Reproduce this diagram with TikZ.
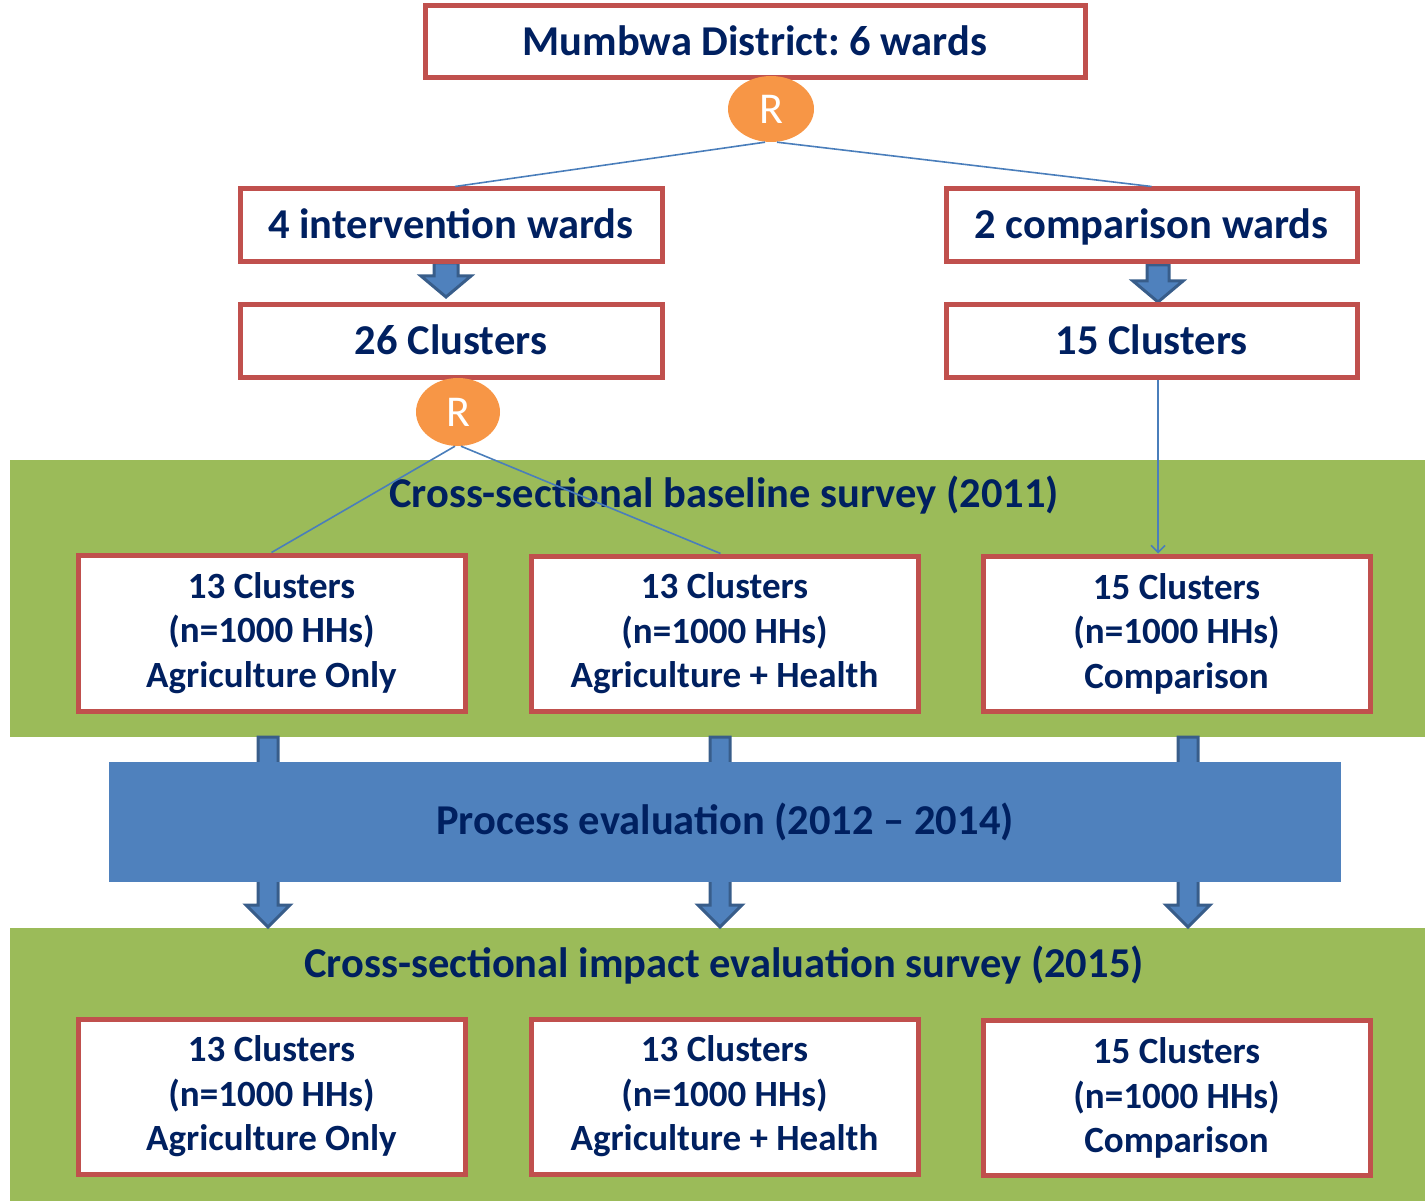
\documentclass[tikz,border=0pt]{standalone}
\usepackage{fontspec}
\setmainfont{Carlito}
\usetikzlibrary{arrows.meta,shapes.geometric,calc}
\frenchspacing

\definecolor{boxred}{HTML}{C0504D}
\definecolor{bandgreen}{HTML}{9BBB59}
\definecolor{procblue}{HTML}{4F81BD}
\definecolor{arrowedge}{HTML}{385D8A}
\definecolor{randorange}{HTML}{F79646}
\definecolor{navy}{HTML}{002060}
\definecolor{linkblue}{HTML}{4A7EBB}

% down-pointing block arrow: centre x, top y, head start y, tip y, half shaft, half head
\newcommand\blockdown[6]{%
  \fill[procblue, draw=arrowedge, line width=3, line join=miter]
    ({#1-#5},#2) -- ({#1+#5},#2) -- ({#1+#5},#3) -- ({#1+#6},#3) --
    (#1,#4) -- ({#1-#6},#3) -- ({#1-#5},#3) -- cycle;}

\tikzset{
  stagebox/.style={draw=boxred, line width=5, fill=white, text=navy, inner sep=0pt,
    text height=27pt, text depth=0pt,
    font=\bfseries\fontsize{42.5}{50}\selectfont},
  groupbox/.style={draw=boxred, line width=5, fill=white, text=navy, inner sep=0pt,
    align=center, font=\bfseries\fontsize{37}{44.5}\selectfont},
  randnode/.style={ellipse, fill=randorange, text=white, inner sep=0pt,
    font=\fontsize{44}{50}\selectfont},
  bandtitle/.style={text=navy, font=\bfseries\fontsize{42.5}{50}\selectfont},
  link/.style={draw=linkblue, line width=1.6},
}

\begin{document}
\begin{tikzpicture}[x=1pt, y=-1pt]
\useasboundingbox (0,0) rectangle (1425,1201);

% survey bands
\fill[bandgreen] (10,460) rectangle (1425,737);
\fill[bandgreen] (10,928) rectangle (1425,1201);

% arrows running through the process evaluation
\blockdown{268}{737}{905}{927}{10}{22}
\blockdown{720}{737}{905}{927}{10}{22}
\blockdown{1188}{737}{905}{927}{10}{22}

\node[fill=procblue, minimum width=1232, minimum height=120, inner sep=0pt,
  text=navy, font=\bfseries\fontsize{42.5}{50}\selectfont] (proc) at (725,822)
  {Process evaluation (2012 – 2014)};

% ward-to-cluster arrows
\blockdown{446}{263}{276}{297}{12}{25}
\blockdown{1158}{265}{281}{302}{11}{25}

% band titles
\node[bandtitle] (base) at (724,495) {Cross-sectional baseline survey (2011)};
\node[bandtitle] (impact) at (724,965) {Cross-sectional impact evaluation survey (2015)};

% top of the design
\node[stagebox, minimum width=660, minimum height=72] (district) at (755,42) {Mumbwa District: 6 wards};
\node[stagebox, minimum width=422, minimum height=73] (iw) at (451,225.5) {4 intervention wards};
\node[stagebox, minimum width=411, minimum height=73] (cw) at (1151.5,225.5) {2 comparison wards};
\node[stagebox, minimum width=422, minimum height=73] (c26) at (451,340.5) {26 Clusters};
\node[stagebox, minimum width=411, minimum height=73] (c15) at (1151.5,340.5) {15 Clusters};

% baseline arms
\node[groupbox, minimum width=387, minimum height=156] (b1) at (271.5,633) {13 Clusters\\(n=1000 HHs)\\Agriculture Only};
\node[groupbox, minimum width=387, minimum height=155] (b2) at (724.5,633.5) {13 Clusters\\(n=1000 HHs)\\Agriculture + Health};
\node[groupbox, minimum width=387, minimum height=155] (b3) at (1176.5,633.5) {15 Clusters\\(n=1000 HHs)\\Comparison};

% endline arms
\node[groupbox, minimum width=387, minimum height=155] (d1) at (271.5,1096.5) {13 Clusters\\(n=1000 HHs)\\Agriculture Only};
\node[groupbox, minimum width=387, minimum height=155] (d2) at (724.5,1096.5) {13 Clusters\\(n=1000 HHs)\\Agriculture + Health};
\node[groupbox, minimum width=387, minimum height=155] (d3) at (1176.5,1098) {15 Clusters\\(n=1000 HHs)\\Comparison};

% randomisation points
\node[randnode, minimum width=86, minimum height=66] (r1) at (771,109) {R};
\node[randnode, minimum width=84, minimum height=68] (r2) at (458,412) {R};

% allocation links
\draw[link] ([xshift=-6]r1.south) -- ([xshift=4]iw.north);
\draw[link] ([xshift=6]r1.south) -- (cw.north);
\draw[link] ([xshift=-3]r2.south) -- (b1.north);
\draw[link] ([xshift=3]r2.south) -- ([xshift=-4]b2.north);
\draw[link, -{Straight Barb[length=7pt,width=14pt]}]
  ([xshift=6.5]c15.south) -- ([xshift=6.5]c15.south |- b3.north);
\end{tikzpicture}
\end{document}
